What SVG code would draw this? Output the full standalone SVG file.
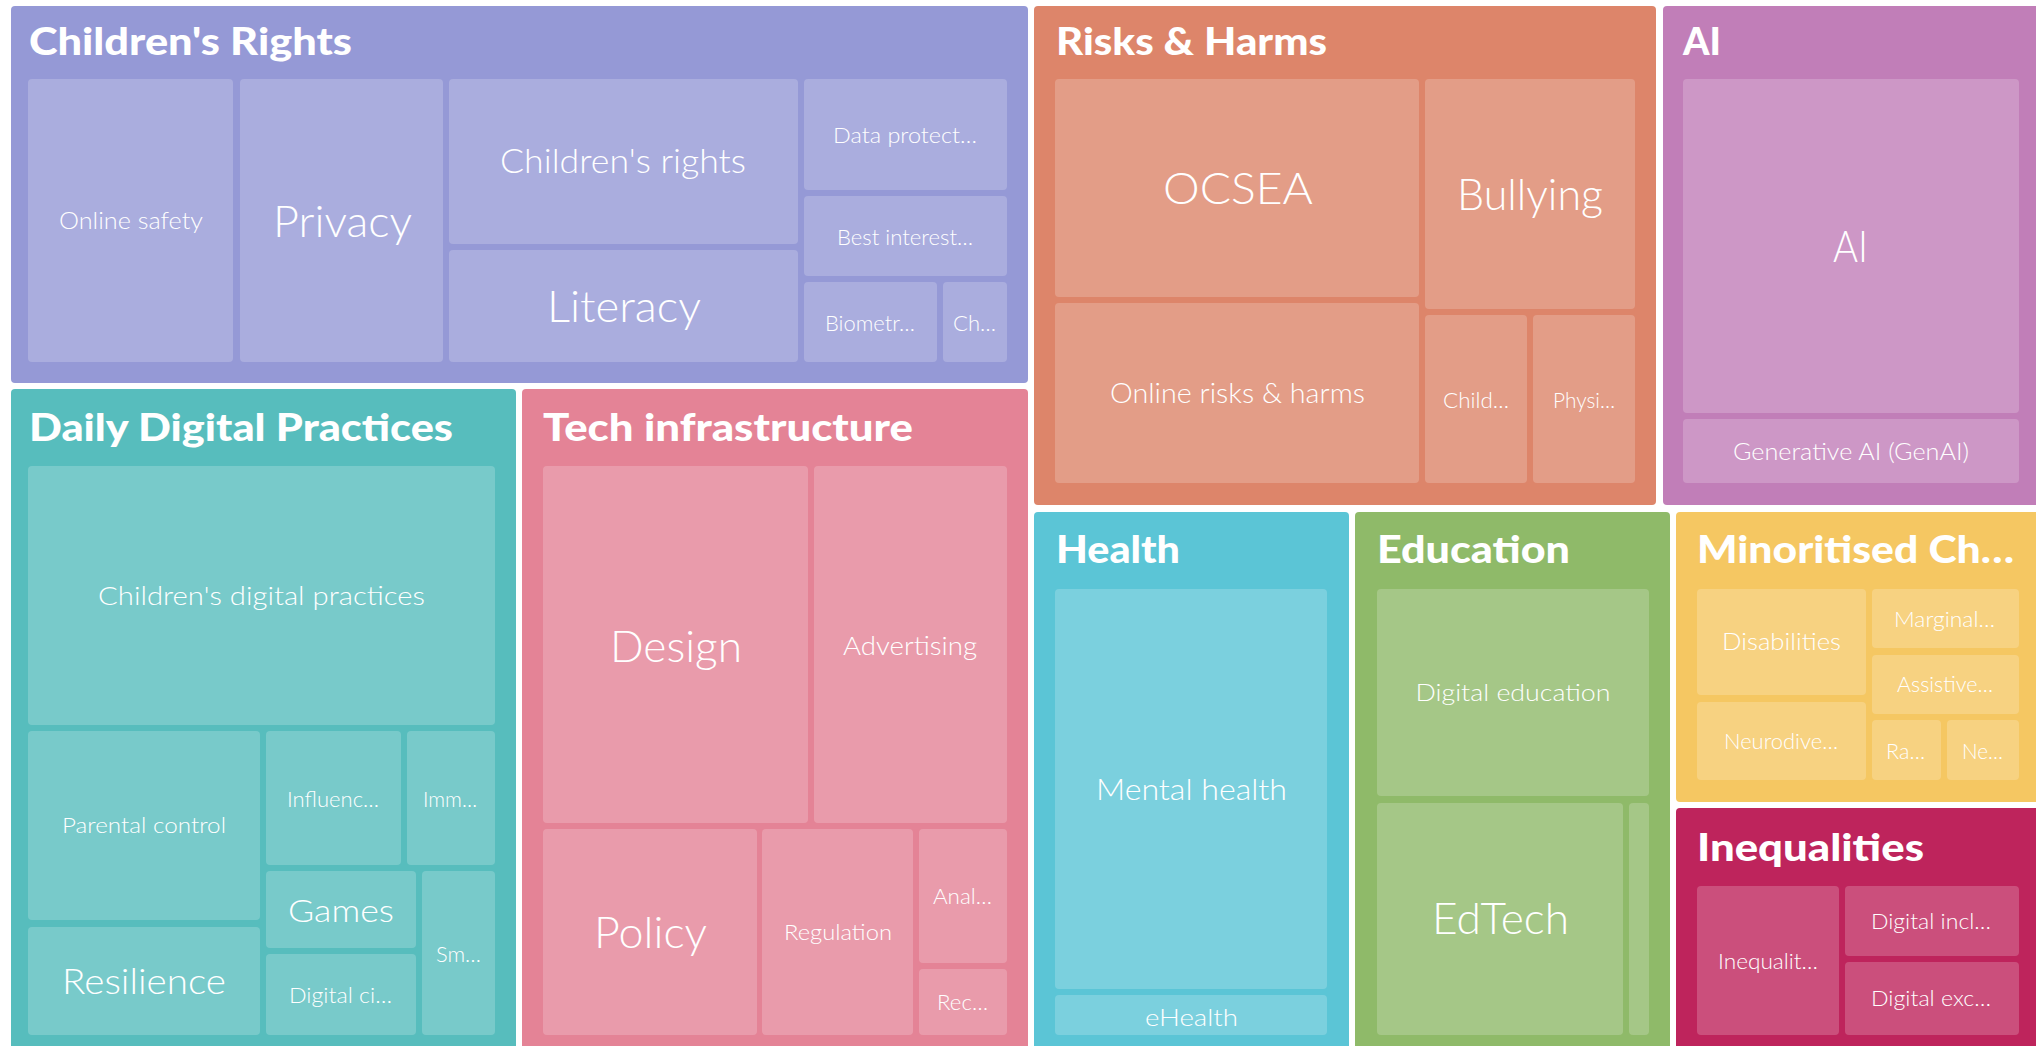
<svg xmlns="http://www.w3.org/2000/svg" width="2036" height="1046" viewBox="0 0 2036 1046">
<style>
.grp{stroke:none}
.tile{fill:#ffffff;fill-opacity:0.2}
.title{font-family:"Lato","Liberation Sans",sans-serif;font-weight:900;fill:#ffffff;font-size:38px}
.lbl{font-family:"Lato","Liberation Sans",sans-serif;font-weight:300;fill:#ffffff;text-anchor:middle}
</style>
<rect x="0" y="0" width="2036" height="1046" fill="#ffffff"/>

<g id="childrens-rights">
<rect class="grp" x="11" y="6" width="1017" height="377" rx="4" fill="#9599D6"/>
<text class="title" x="29" y="55" textLength="323" lengthAdjust="spacingAndGlyphs">Children's Rights</text>
<rect class="tile" x="28" y="79" width="205" height="283" rx="4"/>
<text class="lbl" x="131" y="229" font-size="24" textLength="144" lengthAdjust="spacingAndGlyphs">Online safety</text>
<rect class="tile" x="240" y="79" width="203" height="283" rx="4"/>
<text class="lbl" x="342.5" y="237" font-size="44" textLength="139" lengthAdjust="spacingAndGlyphs">Privacy</text>
<rect class="tile" x="449" y="79" width="349" height="165" rx="4"/>
<text class="lbl" x="623" y="173" font-size="34" textLength="246" lengthAdjust="spacingAndGlyphs">Children's rights</text>
<rect class="tile" x="449" y="250" width="349" height="112" rx="4"/>
<text class="lbl" x="624" y="322" font-size="44" textLength="154" lengthAdjust="spacingAndGlyphs">Literacy</text>
<rect class="tile" x="804" y="79" width="203" height="111" rx="4"/>
<text class="lbl" x="905" y="143" font-size="22" textLength="144" lengthAdjust="spacingAndGlyphs">Data protect…</text>
<rect class="tile" x="804" y="196" width="203" height="80" rx="4"/>
<text class="lbl" x="905" y="245" font-size="22" textLength="136" lengthAdjust="spacingAndGlyphs">Best interest…</text>
<rect class="tile" x="804" y="282" width="133" height="80" rx="4"/>
<text class="lbl" x="870" y="331" font-size="21" textLength="90" lengthAdjust="spacingAndGlyphs">Biometr…</text>
<rect class="tile" x="943" y="282" width="64" height="80" rx="4"/>
<text class="lbl" x="974.5" y="331" font-size="21" textLength="43" lengthAdjust="spacingAndGlyphs">Ch…</text>
</g>

<g id="risks-harms">
<rect class="grp" x="1034" y="6" width="622" height="499" rx="4" fill="#DD856A"/>
<text class="title" x="1056" y="55" textLength="271" lengthAdjust="spacingAndGlyphs">Risks &amp; Harms</text>
<rect class="tile" x="1055" y="79" width="364" height="218" rx="4"/>
<text class="lbl" x="1238" y="204" font-size="44" textLength="150" lengthAdjust="spacingAndGlyphs">OCSEA</text>
<rect class="tile" x="1055" y="303" width="364" height="180" rx="4"/>
<text class="lbl" x="1237.5" y="403" font-size="27" textLength="255" lengthAdjust="spacingAndGlyphs">Online risks &amp; harms</text>
<rect class="tile" x="1425" y="79" width="210" height="230" rx="4"/>
<text class="lbl" x="1530" y="210" font-size="44" textLength="146" lengthAdjust="spacingAndGlyphs">Bullying</text>
<rect class="tile" x="1425" y="315" width="102" height="168" rx="4"/>
<text class="lbl" x="1476" y="408" font-size="21" textLength="66" lengthAdjust="spacingAndGlyphs">Child…</text>
<rect class="tile" x="1533" y="315" width="102" height="168" rx="4"/>
<text class="lbl" x="1584" y="408" font-size="21" textLength="62" lengthAdjust="spacingAndGlyphs">Physi…</text>
</g>

<g id="ai">
<rect class="grp" x="1663" y="6" width="380" height="499" rx="4" fill="#C17EB8"/>
<text class="title" x="1683" y="55" textLength="38" lengthAdjust="spacingAndGlyphs">AI</text>
<rect class="tile" x="1683" y="79" width="336" height="334" rx="4"/>
<text class="lbl" x="1850.5" y="262" font-size="44" textLength="35" lengthAdjust="spacingAndGlyphs">AI</text>
<rect class="tile" x="1683" y="419" width="336" height="64" rx="4"/>
<text class="lbl" x="1851" y="460" font-size="24" textLength="236" lengthAdjust="spacingAndGlyphs">Generative AI (GenAI)</text>
</g>

<g id="daily-digital-practices">
<rect class="grp" x="11" y="389" width="505" height="670" rx="4" fill="#57BDBD"/>
<text class="title" x="29" y="441" textLength="424" lengthAdjust="spacingAndGlyphs">Daily Digital Practices</text>
<rect class="tile" x="28" y="466" width="467" height="259" rx="4"/>
<text class="lbl" x="261.5" y="605" font-size="26" textLength="327" lengthAdjust="spacingAndGlyphs">Children's digital practices</text>
<rect class="tile" x="28" y="731" width="232" height="189" rx="4"/>
<text class="lbl" x="144" y="833" font-size="22" textLength="164" lengthAdjust="spacingAndGlyphs">Parental control</text>
<rect class="tile" x="28" y="927" width="232" height="108" rx="4"/>
<text class="lbl" x="144" y="994" font-size="36" textLength="164" lengthAdjust="spacingAndGlyphs">Resilience</text>
<rect class="tile" x="266" y="731" width="135" height="134" rx="4"/>
<text class="lbl" x="333" y="807" font-size="21" textLength="92" lengthAdjust="spacingAndGlyphs">Influenc…</text>
<rect class="tile" x="407" y="731" width="88" height="134" rx="4"/>
<text class="lbl" x="450" y="807" font-size="21" textLength="54" lengthAdjust="spacingAndGlyphs">Imm…</text>
<rect class="tile" x="266" y="871" width="150" height="77" rx="4"/>
<text class="lbl" x="341" y="922" font-size="32" textLength="106" lengthAdjust="spacingAndGlyphs">Games</text>
<rect class="tile" x="266" y="954" width="150" height="81" rx="4"/>
<text class="lbl" x="340.5" y="1003" font-size="21" textLength="103" lengthAdjust="spacingAndGlyphs">Digital ci…</text>
<rect class="tile" x="422" y="871" width="73" height="164" rx="4"/>
<text class="lbl" x="458.5" y="962" font-size="21" textLength="45" lengthAdjust="spacingAndGlyphs">Sm…</text>
</g>

<g id="tech-infrastructure">
<rect class="grp" x="522" y="389" width="506" height="670" rx="4" fill="#E48396"/>
<text class="title" x="543" y="441" textLength="370" lengthAdjust="spacingAndGlyphs">Tech infrastructure</text>
<rect class="tile" x="543" y="466" width="265" height="357" rx="4"/>
<text class="lbl" x="676" y="662" font-size="44" textLength="132" lengthAdjust="spacingAndGlyphs">Design</text>
<rect class="tile" x="814" y="466" width="193" height="357" rx="4"/>
<text class="lbl" x="910" y="655" font-size="26" textLength="134" lengthAdjust="spacingAndGlyphs">Advertising</text>
<rect class="tile" x="543" y="829" width="214" height="206" rx="4"/>
<text class="lbl" x="650.5" y="948" font-size="44" textLength="113" lengthAdjust="spacingAndGlyphs">Policy</text>
<rect class="tile" x="762" y="829" width="151" height="206" rx="4"/>
<text class="lbl" x="838" y="940" font-size="21" textLength="108" lengthAdjust="spacingAndGlyphs">Regulation</text>
<rect class="tile" x="919" y="829" width="88" height="134" rx="4"/>
<text class="lbl" x="962.5" y="904" font-size="22" textLength="59" lengthAdjust="spacingAndGlyphs">Anal…</text>
<rect class="tile" x="919" y="969" width="88" height="66" rx="4"/>
<text class="lbl" x="962.5" y="1010" font-size="22" textLength="51" lengthAdjust="spacingAndGlyphs">Rec…</text>
</g>

<g id="health">
<rect class="grp" x="1034" y="512" width="315" height="547" rx="4" fill="#5BC5D6"/>
<text class="title" x="1056" y="563" textLength="124" lengthAdjust="spacingAndGlyphs">Health</text>
<rect class="tile" x="1055" y="589" width="272" height="400" rx="4"/>
<text class="lbl" x="1191.5" y="800" font-size="30" textLength="191" lengthAdjust="spacingAndGlyphs">Mental health</text>
<rect class="tile" x="1055" y="995" width="272" height="40" rx="4"/>
<text class="lbl" x="1191.5" y="1026" font-size="24" textLength="93" lengthAdjust="spacingAndGlyphs">eHealth</text>
</g>

<g id="education">
<rect class="grp" x="1355" y="512" width="315" height="547" rx="4" fill="#8FBA69"/>
<text class="title" x="1377" y="563" textLength="193" lengthAdjust="spacingAndGlyphs">Education</text>
<rect class="tile" x="1377" y="589" width="272" height="207" rx="4"/>
<text class="lbl" x="1513" y="701" font-size="24" textLength="195" lengthAdjust="spacingAndGlyphs">Digital education</text>
<rect class="tile" x="1377" y="803" width="246" height="232" rx="4"/>
<text class="lbl" x="1500.5" y="934" font-size="44" textLength="137" lengthAdjust="spacingAndGlyphs">EdTech</text>
<rect class="tile" x="1629" y="803" width="20" height="232" rx="4"/>
</g>

<g id="minoritised-children">
<rect class="grp" x="1676" y="512" width="367" height="290" rx="4" fill="#F5C762"/>
<text class="title" x="1697" y="563" textLength="317" lengthAdjust="spacingAndGlyphs">Minoritised Ch…</text>
<rect class="tile" x="1697" y="589" width="169" height="106" rx="4"/>
<text class="lbl" x="1781.5" y="650" font-size="24" textLength="119" lengthAdjust="spacingAndGlyphs">Disabilities</text>
<rect class="tile" x="1872" y="589" width="147" height="59" rx="4"/>
<text class="lbl" x="1944.5" y="627" font-size="22" textLength="101" lengthAdjust="spacingAndGlyphs">Marginal…</text>
<rect class="tile" x="1872" y="655" width="147" height="59" rx="4"/>
<text class="lbl" x="1945" y="692" font-size="22" textLength="96" lengthAdjust="spacingAndGlyphs">Assistive…</text>
<rect class="tile" x="1697" y="702" width="169" height="78" rx="4"/>
<text class="lbl" x="1781" y="749" font-size="22" textLength="114" lengthAdjust="spacingAndGlyphs">Neurodive…</text>
<rect class="tile" x="1872" y="720" width="69" height="60" rx="4"/>
<text class="lbl" x="1905.5" y="759" font-size="22" textLength="39" lengthAdjust="spacingAndGlyphs">Ra…</text>
<rect class="tile" x="1947" y="720" width="72" height="60" rx="4"/>
<text class="lbl" x="1982.5" y="759" font-size="22" textLength="41" lengthAdjust="spacingAndGlyphs">Ne…</text>
</g>

<g id="inequalities">
<rect class="grp" x="1676" y="808" width="367" height="251" rx="4" fill="#BE245C"/>
<text class="title" x="1697" y="861" textLength="227" lengthAdjust="spacingAndGlyphs">Inequalities</text>
<rect class="tile" x="1697" y="886" width="142" height="149" rx="4"/>
<text class="lbl" x="1768" y="969" font-size="22" textLength="100" lengthAdjust="spacingAndGlyphs">Inequalit…</text>
<rect class="tile" x="1845" y="886" width="174" height="70" rx="4"/>
<text class="lbl" x="1931" y="929" font-size="22" textLength="120" lengthAdjust="spacingAndGlyphs">Digital incl…</text>
<rect class="tile" x="1845" y="962" width="174" height="73" rx="4"/>
<text class="lbl" x="1931" y="1006" font-size="22" textLength="120" lengthAdjust="spacingAndGlyphs">Digital exc…</text>
</g>
</svg>
